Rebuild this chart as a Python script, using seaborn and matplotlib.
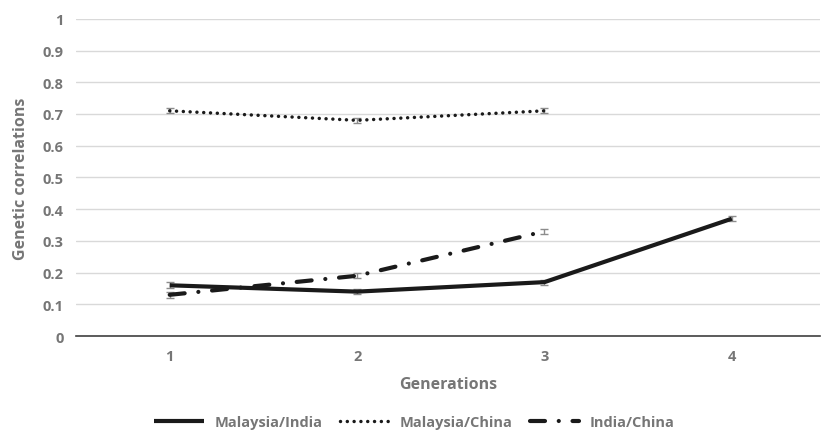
import numpy as np
import pandas as pd
import matplotlib
matplotlib.use("Agg")
import matplotlib.pyplot as plt
import seaborn as sns

generations = [1, 2, 3, 4]
malaysia_india = [0.16, 0.14, 0.17, 0.37]
malaysia_china = [0.71, 0.68, 0.71]
india_china = [0.13, 0.19, 0.33]
err_mi = [0.01, 0.008, 0.008, 0.008]
err_mc = [0.008, 0.008, 0.008]
err_ic = [0.01, 0.008, 0.008]

sns.set_style("white")
plt.rcParams["font.family"] = ["Open Sans", "DejaVu Sans"]
plt.rcParams["font.weight"] = "bold"
plt.rcParams["axes.labelweight"] = "bold"

gray = "#767676"
fig = plt.figure(figsize=(8.22, 4.31), dpi=100)
ax = fig.add_axes([0.0925, 0.218, 0.905, 0.736])

series = [
    ("Malaysia/India", malaysia_india, err_mi, "-", 3.0),
    ("Malaysia/China", malaysia_china, err_mc, (0, (0.01, 1.95)), 2.5),
    ("India/China", india_china, err_ic, (0, (3.6, 3.3, 0.01, 3.3)), 3.0),
]
for name, vals, errs, ls, lw in series:
    df = pd.DataFrame({"gen": generations[:len(vals)], "val": vals})
    sns.lineplot(data=df, x="gen", y="val", ax=ax, color="#1a1a1a",
                 linewidth=lw, linestyle=ls, label=name,
                 dash_capstyle="round", solid_capstyle="butt")
    ax.errorbar(df["gen"], df["val"], yerr=errs, fmt="none", ecolor="#8c8c8c",
                elinewidth=1, capsize=3, capthick=1, zorder=1)

ax.set_xlim(0.5, 4.47)
ax.set_ylim(0, 1)
ax.set_yticks(np.arange(0, 1.01, 0.1))
ax.set_yticklabels(["0"] + [f"{v:.1f}" for v in np.arange(0.1, 0.95, 0.1)] + ["1"])
ax.set_xticks(generations)
ax.grid(axis="y", color="#d9d9d9", linewidth=1)
ax.set_axisbelow(True)
for s in ["top", "right", "left"]:
    ax.spines[s].set_visible(False)
ax.spines["bottom"].set_color("#404040")
ax.spines["bottom"].set_linewidth(1.2)
ax.tick_params(axis="both", length=0, labelsize=10.5, labelcolor=gray, pad=9)
for t in ax.get_xticklabels() + ax.get_yticklabels():
    t.set_fontweight("bold")
ax.set_xlabel("Generations", fontsize=11.5, color=gray, fontweight="bold", labelpad=10)
ax.set_ylabel("Genetic correlations", fontsize=11.5, color=gray, fontweight="bold", labelpad=10)

leg = ax.legend(loc="center", bbox_to_anchor=(0.455, -0.27), ncol=3, frameon=False,
                fontsize=10.5, labelcolor=gray, handlelength=3.4, columnspacing=1.2,
                handletextpad=0.7)
for t in leg.get_texts():
    t.set_fontweight("bold")

fig.savefig("out.png", dpi=100)
